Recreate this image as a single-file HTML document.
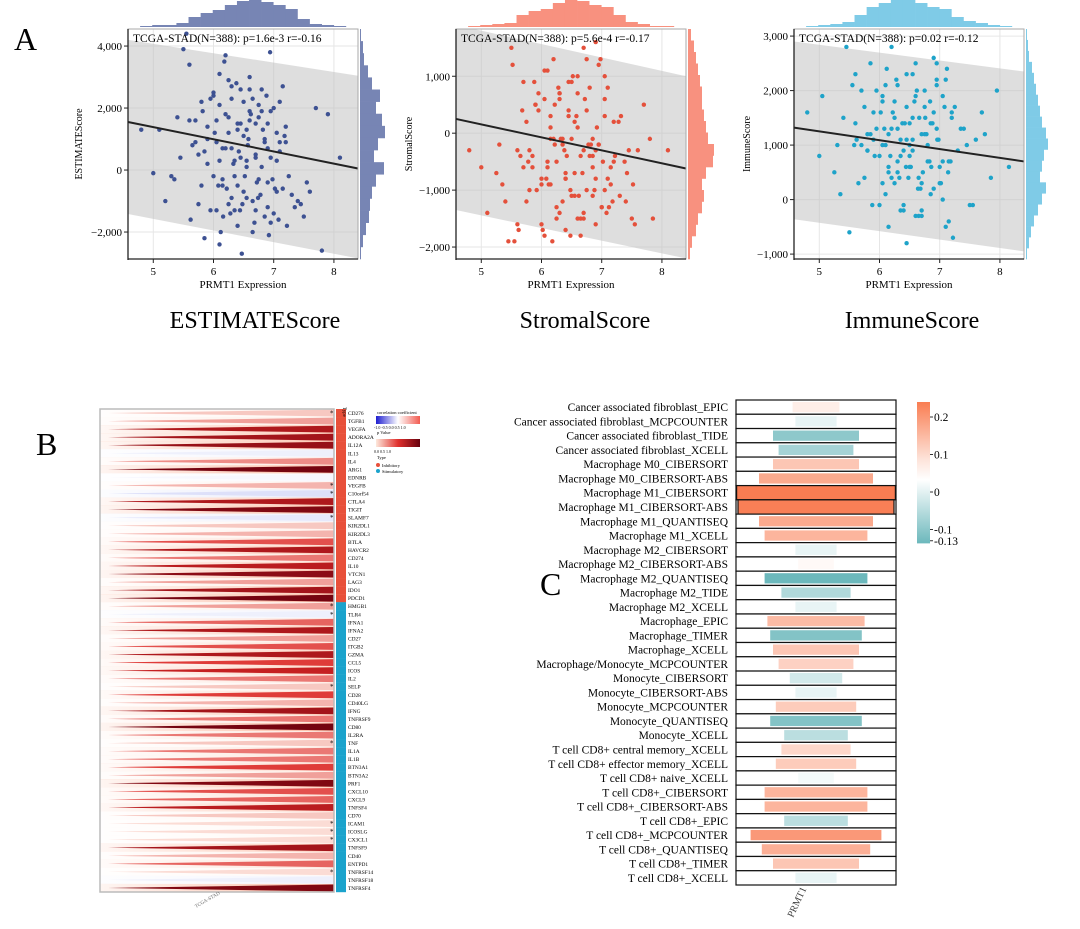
<!DOCTYPE html>
<html><head><meta charset="utf-8"><style>
html,body{margin:0;padding:0;background:#fff;}
svg{display:block;font-family:"Liberation Serif",serif;}
</style></head><body>
<svg id="fig" width="1080" height="929" viewBox="0 0 1080 929" xmlns="http://www.w3.org/2000/svg">
<text x="14" y="50" font-size="32">A</text>
<text x="36" y="455" font-size="32">B</text>
<text x="540" y="595" font-size="32">C</text>
<text x="255" y="328" font-size="24" text-anchor="middle">ESTIMATEScore</text>
<text x="585" y="328" font-size="24" text-anchor="middle">StromalScore</text>
<text x="912" y="328" font-size="24" text-anchor="middle">ImmuneScore</text>
<g id="pa"></g><g id="pb"></g><g id="pc"></g>
</svg>
<script>
const NS="http://www.w3.org/2000/svg";
function mk(tag,attrs,parent){const e=document.createElementNS(NS,tag);for(const k in attrs)e.setAttribute(k,attrs[k]);parent.appendChild(e);return e;}

// ---------- Panel A data ----------
const estX=[5.5,5.6,5.8,6.0,6.1,6.2,6.3,6.4,6.5,6.6,6.7,6.8,6.9,7.0,7.1,7.2,5.9,6.05,6.15,6.25,6.35,6.45,6.55,6.65,6.75,6.85,6.95,7.05,7.3,7.5,5.3,5.4,5.7,5.95,6.12,6.22,6.38,6.48,6.58,6.72,6.82,6.92,7.08,7.25,7.6,7.9,4.8,5.0,5.2,5.45,5.65,5.85,6.02,6.18,6.28,6.42,6.52,6.62,6.78,6.88,6.98,7.15,7.4,7.7,8.1,5.55,5.75,5.9,6.08,6.2,6.33,6.44,6.57,6.68,6.8,6.94,7.02,7.18,7.35,7.8,5.1,5.35,5.62,5.82,6.0,6.16,6.3,6.47,6.6,6.74,6.9,7.1,7.22,7.45,7.55,6.1,6.4,6.7,6.25,6.55];
const estY=[3900,3400,2200,2500,3100,1800,2700,1300,2200,3000,1500,2600,700,2000,600,1400,200,900,-500,1700,-1300,400,-900,2300,-300,900,-1700,300,-800,-1500,-200,1700,1600,-1300,-2000,-600,2800,-1100,1000,-400,1300,-2100,-1600,-200,-700,1800,1300,-100,-1000,400,800,-2200,1200,3500,-1400,600,-200,1800,-800,2400,-300,2700,-1000,2000,400,4400,500,1000,-500,3700,200,-1300,800,-1700,1900,3800,-600,1100,-1200,-2600,1300,-300,-1600,1900,2400,-1500,700,-2700,1600,-900,-400,900,-1800,-1100,-400,-2400,1500,500,2900,100];
const extraX=[5.6,5.8,5.95,6.05,6.15,6.25,6.35,6.45,6.55,6.65,6.75,6.85,6.95,7.05,7.15,5.7,5.9,6.1,6.3,6.5,6.7,6.9,7.1,6.0,6.2,6.4,6.6,6.8,7.0,7.2,5.75,6.05,6.35,6.65,6.95,5.85,6.15,6.45,6.75,7.05,6.25,6.55,6.85,6.1,6.4,6.7,6.3,6.6,6.9,6.5];
const estY2=[1600,-500,2300,-1300,700,1200,-200,2600,300,-1000,1700,-1500,400,1200,-600,900,1400,2100,-900,1100,400,-1200,2200,-200,700,-1800,2600,100,-1400,900,-1100,1600,300,-2000,1900,600,-300,1500,2100,-700,-1100,1300,1000,300,-500,-1300,2300,1900,1500,-700];
const strX=[5.5,5.52,5.6,5.7,5.8,5.9,6.0,6.05,6.1,6.15,6.2,6.25,6.3,6.35,6.4,6.45,6.5,6.55,6.6,6.65,6.7,6.75,6.8,6.85,6.9,6.95,7.0,7.05,7.1,7.2,7.3,7.4,7.5,7.6,7.7,7.8,8.1,4.8,5.0,5.1,5.25,5.3,5.4,5.45,5.65,5.75,5.85,5.95,6.02,6.12,6.22,6.32,6.42,6.52,6.62,6.72,6.82,6.92,7.02,7.12,7.22,7.32,7.42,7.52,7.85,5.55,5.62,5.78,5.88,6.08,6.18,6.28,6.38,6.48,6.58,6.68,6.78,6.88,6.98,7.08,7.18,7.28,7.38,7.55,5.35,5.68,5.92,6.22,6.48,6.7,6.9,7.15,7.45,6.0,6.3,6.6,6.85,7.05,6.4,6.15];
const strY=[1500,1200,-1600,900,-300,500,-900,1100,-500,300,1300,-1300,700,-100,-700,400,900,-1100,100,-400,1500,-1000,800,-600,1600,-200,-1300,600,-800,200,-1100,-1200,-1500,-300,500,-100,-300,-300,-600,-1400,-700,-200,-1200,-1900,-400,200,-600,400,-1700,-900,500,-100,-400,1000,-1100,600,-200,100,-500,-1300,-400,300,-700,-900,-1500,-1900,-1700,-500,900,-800,-1900,800,-300,-1000,300,-700,-200,-1000,1300,-1400,-1200,200,-500,-1600,-900,400,-1000,-200,-1800,-1500,-800,-600,-300,-1600,700,-1500,-400,1000,-800,-100];
const strY2=[-300,-1000,700,-1800,100,-500,-1200,900,-700,-1500,400,-1100,-200,300,-900,-600,500,1100,-1400,-100,-300,-1600,800,-800,-100,-1700,1000,-400,-1300,-500,-1200,600,-200,-1800,1200,-400,-900,300,1300,-1000,-1500,200,-100,-600,-800,-1400,600,700,-300,-1100];
const immX=[5.45,5.55,5.6,5.75,5.85,5.95,6.0,6.05,6.12,6.18,6.22,6.28,6.33,6.38,6.44,6.5,6.55,6.6,6.66,6.72,6.78,6.83,6.9,6.96,7.02,7.08,7.14,7.2,7.3,7.45,7.6,7.75,7.95,8.15,4.8,5.0,5.05,5.25,5.3,5.4,5.5,5.65,5.8,5.9,6.02,6.1,6.2,6.3,6.4,6.48,6.58,6.68,6.76,6.86,6.95,7.05,7.15,7.25,7.4,7.55,7.7,7.85,5.58,5.7,5.88,6.08,6.15,6.25,6.35,6.45,6.52,6.62,6.7,6.8,6.88,6.98,7.1,7.18,7.35,7.5,5.35,5.62,5.92,6.15,6.42,6.64,6.84,7.0,7.22,6.3,6.55,6.75,6.05,6.95,6.45,6.2,6.7,7.12,5.8,6.5];
const immY=[2800,2100,2300,1700,2500,1300,-100,1900,2400,800,1600,2200,400,1400,600,1000,2300,-300,1500,500,1200,700,2600,1100,300,1700,500,1600,900,1000,1100,1200,2000,600,1600,800,1900,500,1000,1500,-600,300,900,1100,1600,100,2800,1300,-200,400,1800,200,1500,600,2500,0,-400,1700,1300,-100,1600,400,1000,2000,-100,1300,500,1800,-200,1100,600,2000,-200,700,1400,1100,-500,700,1300,-100,100,1100,800,-500,1400,200,1800,600,-700,700,900,1200,1000,2200,-800,400,-300,2400,1200,800];
const immY2=[1400,900,2000,300,1200,1500,800,2300,1100,400,1700,100,1300,1900,700,1000,1600,2100,500,1400,1200,200,2200,800,1300,-100,2500,1000,300,1500,400,1800,1100,-300,2100,1200,600,1700,2000,700,300,1500,1400,1000,900,300,2100,1900,1600,600];
// fit line & confidence band values at x = 4.58 and x = 8.4
const estLine=[1550,50], estBandTop=[4200,3040], estBandBot=[-1420,-2850];
const strLine=[250,-620], strBandTop=[1900,1000], strBandBot=[-1350,-2200];
const immLine=[1320,700], immBandTop=[2900,2350], immBandBot=[-360,-950];
// marginal histogram counts
const estTopHist=[0,1,2,2,4,10,14,17,22,26,27,25,22,18,8,3,2,1,0];
const estRightHist=[1,3,4,8,12,20,16,22,25,18,14,24,16,12,10,9,6,3,1];
const strTopHist=[0,1,2,3,4,12,16,18,24,27,26,22,20,12,5,3,1,1,0];
const strRightHist=[3,6,8,10,12,14,14,16,18,20,26,25,18,14,16,14,10,8,4,2];
const immTopHist=[0,1,2,3,5,12,20,24,27,27,24,20,18,10,6,4,2,1,0];
const immRightHist=[1,2,3,6,8,10,12,14,16,20,22,18,16,14,20,16,12,8,5,3,1];
const xTicks=[5,6,7,8];
const estYTicks=[4000,2000,0,-2000];
const strYTicks=[1000,0,-1000,-2000];
const immYTicks=[3000,2000,1000,0,-1000];
const annotations=["TCGA-STAD(N=388): p=1.6e-3 r=-0.16","TCGA-STAD(N=388): p=5.6e-4 r=-0.17","TCGA-STAD(N=388): p=0.02 r=-0.12"];

function fmt(v){const s=Math.abs(v).toLocaleString('en-US');return (v<0?'\u2212':'')+s;}

function scatter(cfg){
  const g=mk('g',{},document.getElementById('pa'));
  
  
  const X0=cfg.x0,X1=cfg.x0+230,Y0=29,Y1=259;
  const xd=[4.58,8.4],yd=cfg.yd;
  const sx=v=>X0+(v-xd[0])/(xd[1]-xd[0])*(X1-X0);
  const sy=v=>Y0+(yd[1]-v)/(yd[1]-yd[0])*(Y1-Y0);
  const bw=(xd[1]-xd[0])/cfg.top.length;
  cfg.top.forEach((c,i)=>{ if(!c)return;
    const r=mk('rect',{x:sx(xd[0]+i*bw),y:27-c,width:sx(xd[0]+(i+1)*bw)-sx(xd[0]+i*bw)+0.3,height:c,fill:cfg.hist},g);
    
    });
  const bh=(yd[1]-yd[0])/cfg.right.length;
  cfg.right.forEach((c,i)=>{
    const r=mk('rect',{x:X1+2,y:sy(yd[1]-i*bh),width:c,height:sy(yd[1]-(i+1)*bh)-sy(yd[1]-i*bh)+0.3,fill:cfg.hist},g);
    
    });
  xTicks.forEach(t=>mk('line',{x1:sx(t),x2:sx(t),y1:Y0,y2:Y1,stroke:'#e6e6e6'},g));
  cfg.yt.forEach(t=>mk('line',{x1:X0,x2:X1,y1:sy(t),y2:sy(t),stroke:'#e6e6e6'},g));
  const cp=mk('clipPath',{id:'clip'+cfg.x0},g);mk('rect',{x:X0,y:Y0,width:230,height:230},cp);
  const band=mk('polygon',{points:`${sx(xd[0])},${sy(cfg.bt[0])} ${sx(xd[1])},${sy(cfg.bt[1])} ${sx(xd[1])},${sy(cfg.bb[1])} ${sx(xd[0])},${sy(cfg.bb[0])}`,fill:'#bdbdbd','fill-opacity':0.5,'clip-path':`url(#clip${cfg.x0})`},g);
  
  
  cfg.xs.forEach((v,i)=>{const c=mk('circle',{cx:sx(v),cy:sy(cfg.ys[i]),r:2.2,fill:cfg.dot},g);
    
    });
  const ln=mk('line',{x1:sx(xd[0]),y1:sy(cfg.line[0]),x2:sx(xd[1]),y2:sy(cfg.line[1]),stroke:'#222','stroke-width':2},g);
  
  
  mk('rect',{x:X0,y:Y0,width:230,height:230,fill:'none',stroke:'#aaa'},g);
  mk('line',{x1:X0,x2:X0,y1:Y0,y2:Y1+1,stroke:'#222','stroke-width':1.3},g);
  mk('line',{x1:X0,x2:X1,y1:Y1,y2:Y1,stroke:'#222','stroke-width':1.3},g);
  xTicks.forEach(t=>{mk('line',{x1:sx(t),x2:sx(t),y1:Y1,y2:Y1+4,stroke:'#222'},g);
    const tx=mk('text',{x:sx(t),y:Y1+16,'font-size':11,'text-anchor':'middle'},g);tx.textContent=t;
    
    });
  cfg.yt.forEach(t=>{mk('line',{x1:X0-4,x2:X0,y1:sy(t),y2:sy(t),stroke:'#222'},g);
    const tx=mk('text',{x:X0-6,y:sy(t)+4,'font-size':11,'text-anchor':'end'},g);tx.textContent=fmt(t);
    
    });
  const xt=mk('text',{x:(X0+X1)/2,y:Y1+29,'font-size':11,'text-anchor':'middle'},g);xt.textContent='PRMT1 Expression';
  
  
  const yt=mk('text',{x:0,y:0,'font-size':10,'text-anchor':'middle',transform:`translate(${cfg.ytx},144) rotate(-90)`},g);yt.textContent=cfg.ytitle;
  
  
  const an=mk('text',{x:X0+5,y:Y0+13,'font-size':11.5},g);an.textContent=cfg.ann;
  
  
}
scatter({name:'estimate-scatter',x0:128,yd:[-2870,4550],yt:estYTicks,xs:estX.concat(extraX),ys:estY.concat(estY2),line:estLine,bt:estBandTop,bb:estBandBot,top:estTopHist,right:estRightHist,dot:'#3d5192',hist:'#7785b4',ytitle:'ESTIMATEScore',ytx:82,ann:annotations[0]});
scatter({name:'stromal-scatter',x0:456,yd:[-2210,1830],yt:strYTicks,xs:strX.concat(extraX),ys:strY.concat(strY2),line:strLine,bt:strBandTop,bb:strBandBot,top:strTopHist,right:strRightHist,dot:'#e4503b',hist:'#f8917f',ytitle:'StromalScore',ytx:412,ann:annotations[1]});
scatter({name:'immune-scatter',x0:794,yd:[-1090,3130],yt:immYTicks,xs:immX.concat(extraX),ys:immY.concat(immY2),line:immLine,bt:immBandTop,bb:immBandBot,top:immTopHist,right:immRightHist,dot:'#1ea3c9',hist:'#7fcbe7',ytitle:'ImmuneScore',ytx:750,ann:annotations[2]});

// ---------- Panel B ----------
const genes=["CD276","TGFB1","VEGFA","ADORA2A","IL12A","IL13","IL4","ARG1","EDNRB","VEGFB","C10orf54","CTLA4","TIGIT","SLAMF7","KIR2DL1","KIR2DL3","BTLA","HAVCR2","CD274","IL10","VTCN1","LAG3","IDO1","PDCD1","HMGB1","TLR4","IFNA1","IFNA2","CD27","ITGB2","GZMA","CCL5","ICOS","IL2","SELP","CD28","CD40LG","IFNG","TNFRSF9","CD80","IL2RA","TNF","IL1A","IL1B","BTN3A1","BTN3A2","PRF1","CXCL10","CXCL9","TNFSF4","CD70","ICAM1","ICOSLG","CX3CL1","TNFSF9","CD40","ENTPD1","TNFRSF14","TNFRSF18","TNFRSF4"];
const corr=[0.1,0.2,0.7,0.75,0.8,-0.1,0.25,0.95,-0.05,0.15,-0.2,0.7,0.9,-0.15,0.1,0.15,0.4,0.7,0.3,0.65,0.85,0.2,0.75,0.95,0.2,-0.1,0.35,0.7,0.2,0.4,0.7,0.45,0.6,0.3,0.1,0.45,0.15,0.75,0.3,0.95,0.3,0.1,0.3,0.3,0.45,0.2,0.9,0.4,0.35,0.65,0.1,0.05,0.05,0.05,0.75,0.15,0.35,0.05,-0.1,0.9];
const geneType=Array(24).fill("Inhibitory").concat(Array(36).fill("Stimulatory"));
const starred=["CD276","VEGFB","C10orf54","SLAMF7","HMGB1","TLR4","SELP","TNF","ICAM1","ICOSLG","CX3CL1","TNFRSF14"];
function lerp(a,b,t){return a.map((v,i)=>Math.round(v+(b[i]-v)*t));}
function heat(v){ if(v<0){const c=lerp([255,255,255],[170,178,240],Math.min(1,-v*2));return `rgb(${c})`;}
  if(v<0.5)return `rgb(${lerp([254,240,232],[220,40,38],v/0.5)})`;
  return `rgb(${lerp([220,40,38],[105,0,13],(v-0.5)/0.5)})`;}
function bgc(v){ if(v<0)return `rgb(${lerp([255,255,255],[228,231,250],Math.min(1,-v*4))})`;
  return `rgb(${lerp([255,252,250],[252,185,160],Math.min(1,v))})`;}
(function(){
  const g=document.getElementById('pb');
  const L=100,R=334,T=409,step=8.05;
  const d0=mk('defs',{},g);
  const fade=mk('linearGradient',{id:'fade'},d0);
  mk('stop',{offset:'0','stop-color':'#fff','stop-opacity':0.85},fade);mk('stop',{offset:'1','stop-color':'#fff','stop-opacity':0},fade);
  genes.forEach((n,i)=>{const y=T+i*step,c=y+step/2;
    const bg=mk('rect',{x:L,y:y,width:R-L,height:step+0.2,fill:bgc(corr[i])},g);
    
    
    mk('rect',{x:L,y:y,width:R-L,height:step+0.2,fill:'url(#fade)'},g);
    const w=mk('polygon',{points:`${L+8},${c} ${R},${y+0.6} ${R},${y+step-0.6}`,fill:heat(corr[i])},g);
    
    
    const tb=mk('rect',{x:336,y:y,width:10,height:step+0.2,fill:geneType[i]==='Inhibitory'?'#e8503a':'#1ba3cc'},g);
    
    
    const t=mk('text',{x:348,y:c+2,'font-size':5.4},g);t.textContent=n;
    
    
    if(starred.includes(n)){const s=mk('text',{x:330,y:c+2.5,'font-size':7},g);s.textContent='*';
      
      }
  });
  mk('rect',{x:L,y:T,width:R-L,height:genes.length*step,fill:'none',stroke:'#bbb','stroke-width':1.5},g);
  const tt=mk('text',{x:0,y:0,'font-size':5,transform:'translate(343,407) rotate(90)'},g);tt.textContent='Type';
  const xl=mk('text',{x:0,y:0,'font-size':5,fill:'#666',transform:'translate(196,908) rotate(-30)'},g);xl.textContent='TCGA-STAD';
  
  
  const d=mk('defs',{},g);
  const g1=mk('linearGradient',{id:'gcor'},d);
  mk('stop',{offset:'0','stop-color':'#1f1fd0'},g1);mk('stop',{offset:'0.5','stop-color':'#fff'},g1);mk('stop',{offset:'1','stop-color':'#f25b50'},g1);
  const g2=mk('linearGradient',{id:'gp'},d);
  mk('stop',{offset:'0','stop-color':'#fde8dc'},g2);mk('stop',{offset:'0.5','stop-color':'#e0302d'},g2);mk('stop',{offset:'1','stop-color':'#67000d'},g2);
  const lg=mk('g',{},g);
  
  
  const tx=(x,y,s,sz)=>{const t=mk('text',{x:x,y:y,'font-size':sz||4.5},lg);t.textContent=s;};
  tx(377,414,'correlation coefficient');
  mk('rect',{x:376,y:416,width:44,height:8,fill:'url(#gcor)'},lg);
  tx(374,429,'-1.0 -0.5  0.0  0.5  1.0',4);
  tx(377,434,'p Value');
  mk('rect',{x:376,y:439,width:44,height:8,fill:'url(#gp)'},lg);
  tx(374,453,'0.0        0.5        1.0',4);
  tx(377,459,'Type');
  mk('circle',{cx:378,cy:465,r:2,fill:'#e8503a'},lg);tx(382,467,'Inhibitory');
  mk('circle',{cx:378,cy:471,r:2,fill:'#1ba3cc'},lg);tx(382,473,'Stimulatory');
})();

// ---------- Panel C ----------
const cells=["Cancer associated fibroblast_EPIC","Cancer associated fibroblast_MCPCOUNTER","Cancer associated fibroblast_TIDE","Cancer associated fibroblast_XCELL","Macrophage M0_CIBERSORT","Macrophage M0_CIBERSORT-ABS","Macrophage M1_CIBERSORT","Macrophage M1_CIBERSORT-ABS","Macrophage M1_QUANTISEQ","Macrophage M1_XCELL","Macrophage M2_CIBERSORT","Macrophage M2_CIBERSORT-ABS","Macrophage M2_QUANTISEQ","Macrophage M2_TIDE","Macrophage M2_XCELL","Macrophage_EPIC","Macrophage_TIMER","Macrophage_XCELL","Macrophage/Monocyte_MCPCOUNTER","Monocyte_CIBERSORT","Monocyte_CIBERSORT-ABS","Monocyte_MCPCOUNTER","Monocyte_QUANTISEQ","Monocyte_XCELL","T cell CD8+ central memory_XCELL","T cell CD8+ effector memory_XCELL","T cell CD8+ naive_XCELL","T cell CD8+_CIBERSORT","T cell CD8+_CIBERSORT-ABS","T cell CD8+_EPIC","T cell CD8+_MCPCOUNTER","T cell CD8+_QUANTISEQ","T cell CD8+_TIMER","T cell CD8+_XCELL"];
const rVals=[0.03,-0.02,-0.1,-0.08,0.1,0.15,0.23,0.225,0.15,0.13,-0.02,0.01,-0.13,-0.07,-0.02,0.12,-0.11,0.1,0.08,-0.04,-0.02,0.09,-0.11,-0.06,0.07,0.09,-0.01,0.13,0.13,-0.06,0.18,0.14,0.1,-0.02];
const cbTicks=[0.2,0.1,0,-0.1,-0.13];
const cbLabels=["0.2","0.1","0","-0.1","-0.13"];
function cColor(v){ if(v>=0)return `rgb(${lerp([255,255,255],[249,124,82],Math.min(1,v/0.23))})`;
  return `rgb(${lerp([255,255,255],[108,184,188],Math.min(1,-v/0.13))})`;}
(function(){
  const g=document.getElementById('pc');
  const L=736,R=896,T=400,step=485/cells.length,cx=(L+R)/2;
  const wScale=v=>Math.min(R-L,30+Math.abs(v)*560);
  cells.forEach((n,i)=>{const y=T+i*step;
    const row=mk('rect',{x:L,y:y,width:R-L,height:step,fill:'#fff',stroke:'#111','stroke-width':1.2},g);
    
    
    const w=wScale(rVals[i]);
    const b=mk('rect',{x:cx-w/2,y:y+2,width:w,height:step-4,fill:cColor(rVals[i])},g);
    if(Math.abs(rVals[i])>0.2){b.setAttribute('y',y);b.setAttribute('height',step);b.setAttribute('stroke','#111');b.setAttribute('stroke-width',1.2);}
    
    
    const t=mk('text',{x:728,y:y+step/2+4,'font-size':11.5,'text-anchor':'end'},g);t.textContent=n;
    
    
  });
  const xl=mk('text',{x:0,y:0,'font-size':10,fill:'#444',transform:'translate(793,918) rotate(-65)'},g);xl.textContent='PRMT1';
  
  
  const cy=v=>492-v*375;
  const d=mk('defs',{},g);const lg=mk('linearGradient',{id:'gc',x1:0,y1:0,x2:0,y2:1},d);
  mk('stop',{offset:'0','stop-color':'#f97d52'},lg);mk('stop',{offset:'0.4','stop-color':'#fde2d8'},lg);mk('stop',{offset:'0.55','stop-color':'#fff'},lg);mk('stop',{offset:'1','stop-color':'#6cb8bc'},lg);
  const cb=mk('rect',{x:917,y:cy(0.24),width:13,height:cy(-0.137)-cy(0.24),fill:'url(#gc)'},g);
  
  
  cbTicks.forEach((v,i)=>{mk('line',{x1:930,x2:933,y1:cy(v),y2:cy(v),stroke:'#333'},g);
    const t=mk('text',{x:934,y:cy(v)+4,'font-size':11.5},g);t.textContent=cbLabels[i];
    
    });
})();
</script>
</body></html>
